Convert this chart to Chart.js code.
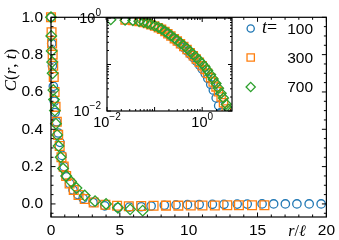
<!DOCTYPE html>
<html>
<head>
<meta charset="utf-8">
<script src="https://cdn.jsdelivr.net/npm/chart.js@4.4.0/dist/chart.umd.min.js"></script>
<style>
html, body { margin: 0; padding: 0; background: #fff; }
#wrap { position: relative; width: 339px; height: 240px; }
canvas { position: absolute; left: 0; top: 0; }
</style>
</head>
<body>
<div id="wrap">
	<canvas id="main" width="339" height="240"></canvas>
	<canvas id="inset" width="339" height="240"></canvas>
</div>
<script>
// t values of the three runs
const series = ['100', '300', '700']
const colors = ['#1f77b4', '#ff7f0e', '#2ca02c']

// main panel, r/l and C(r,t)
const r100 = [0, 0.05, 0.1, 0.17, 0.24, 0.3, 0.4, 0.53, 0.65, 0.8, 0.95, 1.13, 1.35, 1.6, 1.95, 2.33, 3.05, 3.9, 4.86, 5.7, 6.55, 7.27, 8.23, 9.08, 9.91, 10.76, 11.72, 12.56, 13.52, 14.25, 15.33, 16.17, 17.02, 17.86, 18.75, 19.62]
const c100 = [1.0, 0.86, 0.74, 0.63, 0.55, 0.49, 0.44, 0.38, 0.33, 0.26, 0.2, 0.145, 0.11, 0.075, 0.05, 0.03, 0.008, -0.01, -0.019, -0.017, -0.015, -0.011, -0.007, -0.005, -0.004, -0.003, -0.002, -0.002, -0.001, -0.001, 0, 0, 0, 0, 0, 0]

const r300 = [0, 0.04, 0.08, 0.12, 0.16, 0.2, 0.26, 0.33, 0.42, 0.52, 0.63, 0.76, 0.92, 1.1, 1.35, 1.65, 2.0, 2.45, 3.1, 3.95, 4.8, 5.65, 6.55, 7.45, 8.35, 9.25, 10.15, 11.0, 11.9, 12.8, 13.65, 14.6, 15.5]
const c300 = [1.0, 0.92, 0.86, 0.8, 0.74, 0.68, 0.6, 0.52, 0.44, 0.37, 0.31, 0.25, 0.2, 0.15, 0.11, 0.075, 0.048, 0.026, 0.008, -0.004, -0.01, -0.012, -0.011, -0.01, -0.009, -0.009, -0.008, -0.008, -0.008, -0.007, -0.007, -0.007, -0.007]

const r700 = [0, 0.02, 0.05, 0.08, 0.12, 0.17, 0.22, 0.28, 0.36, 0.45, 0.55, 0.7, 0.88, 1.1, 1.45, 1.85, 2.45, 3.2, 4.0, 4.86, 5.75, 6.66]
const c700 = [1.0, 0.9, 0.82, 0.76, 0.7, 0.61, 0.56, 0.5, 0.43, 0.37, 0.31, 0.25, 0.19, 0.15, 0.12, 0.085, 0.045, 0.015, 0.0, -0.02, -0.029, -0.036]

const xTicks = [0, 5, 10, 15, 20]
const yTicks = [0, 0.2, 0.4, 0.6, 0.8, 1.0]

// inset, log-log
const insetR = [0.012, 0.024, 0.035, 0.047, 0.059, 0.071, 0.083, 0.1, 0.12, 0.14, 0.165, 0.19, 0.22, 0.26, 0.3, 0.35, 0.41, 0.48, 0.56, 0.65, 0.75, 0.87, 1.0, 1.15, 1.3, 1.5, 1.7, 1.95, 2.2, 2.5, 2.8, 3.2, 3.6, 4.0]
const inset100 = [null, null, 0.88, 0.84, 0.8, 0.76, 0.72, 0.67, 0.61, 0.56, 0.5, 0.45, 0.4, 0.35, 0.31, 0.27, 0.23, 0.195, 0.165, 0.14, 0.117, 0.097, 0.079, 0.063, 0.05, 0.037, 0.028, 0.019, 0.013, 0.0095, null, null, null, null]
const inset300 = [null, 0.91, 0.88, 0.84, 0.8, 0.76, 0.72, 0.67, 0.62, 0.57, 0.51, 0.46, 0.41, 0.36, 0.32, 0.28, 0.245, 0.21, 0.18, 0.155, 0.132, 0.112, 0.094, 0.078, 0.065, 0.052, 0.042, 0.033, 0.026, 0.02, 0.015, 0.011, null, null]
const inset700 = [0.92, 0.9, 0.88, 0.85, 0.81, 0.77, 0.73, 0.68, 0.63, 0.58, 0.52, 0.47, 0.42, 0.37, 0.33, 0.29, 0.255, 0.22, 0.19, 0.165, 0.142, 0.122, 0.104, 0.088, 0.074, 0.06, 0.049, 0.039, 0.031, 0.024, 0.019, 0.014, 0.011, 0.0095]

const styles = ['circle', 'rect', 'rectRot']
const sizes = [4.2, 6.2, 5.3]
const insetSizes = [4, 5.8, 5]

const SANS = 'Liberation Sans'
const SERIF = 'Liberation Serif'

function points(xs, ys) {
	return xs.map((x, i) => ({ x: x, y: ys[i] })).filter(p => p.y !== null)
}

function dataset(i, data, radius, clip) {
	return {
		label: series[i],
		data: data,
		showLine: false,
		pointStyle: styles[i],
		pointRadius: radius,
		pointBorderWidth: 1.3,
		pointBorderColor: colors[i],
		pointBackgroundColor: 'rgba(0,0,0,0)',
		order: 3 - i,
		clip: clip,
	}
}

function rich(ctx, parts, x, y, align) {
	let w = 0
	parts.forEach(p => {
		ctx.font = p[1]
		w += ctx.measureText(p[0]).width
	})
	let cx = align === 'center' ? x - w / 2 : align === 'right' ? x - w : x
	parts.forEach(p => {
		ctx.font = p[1]
		ctx.fillText(p[0], cx, y + (p[2] || 0))
		cx += ctx.measureText(p[0]).width
	})
}

function frame(chart, xMaj, xMin, yMaj, yMin, major, minor) {
	const ctx = chart.ctx
	const a = chart.chartArea
	const xs = chart.scales.x
	const ys = chart.scales.y
	ctx.save()
	ctx.strokeStyle = '#000'
	ctx.lineWidth = 1
	ctx.beginPath()
	const tickX = (v, len) => {
		const p = xs.getPixelForValue(v)
		ctx.moveTo(p, a.bottom); ctx.lineTo(p, a.bottom - len)
		ctx.moveTo(p, a.top); ctx.lineTo(p, a.top + len)
	}
	const tickY = (v, len) => {
		const p = ys.getPixelForValue(v)
		ctx.moveTo(a.left, p); ctx.lineTo(a.left + len, p)
		ctx.moveTo(a.right, p); ctx.lineTo(a.right - len, p)
	}
	xMaj.forEach(v => tickX(v, major))
	xMin.forEach(v => tickX(v, minor))
	yMaj.forEach(v => tickY(v, major))
	yMin.forEach(v => tickY(v, minor))
	ctx.stroke()
	ctx.lineWidth = 1.2
	ctx.strokeRect(a.left, a.top, a.right - a.left, a.bottom - a.top)
	ctx.restore()
}

const mainDeco = {
	id: 'mainDeco',
	afterDraw(chart) {
		const ctx = chart.ctx
		const xMin = [], yMin = []
		for (let v = 1; v < 20; v++) if (v % 5) xMin.push(v)
		for (let k = -1; k <= 20; k++) if (k % 4) yMin.push(k * 0.05)
		frame(chart, xTicks, xMin, yTicks, yMin, 4.5, 2.5)

		ctx.save()
		ctx.fillStyle = '#000'
		ctx.textBaseline = 'middle'
		// y label
		ctx.save()
		ctx.translate(12, 70)
		ctx.rotate(-Math.PI / 2)
		rich(ctx, [
			['C', 'italic 17px ' + SERIF],
			['(', '17px ' + SERIF],
			['r', 'italic 17px ' + SERIF],
			[', ', '17px ' + SERIF],
			['t', 'italic 17px ' + SERIF],
			[')', '17px ' + SERIF],
		], 0, 0, 'center')
		ctx.restore()
		// x label
		rich(ctx, [
			['r', 'italic 16px ' + SERIF],
			['/', '16px ' + SERIF],
			['\u2113', 'italic 16px ' + SERIF],
		], 297, 232, 'center')

		// legend
		const ly = [28.5, 57.5, 87]
		const lr = [3.6, 5.2, 4.6]
		series.forEach((s, i) => {
			ctx.save()
			ctx.strokeStyle = colors[i]
			ctx.fillStyle = 'rgba(0,0,0,0)'
			ctx.lineWidth = 1.3
			Chart.helpers.drawPoint(ctx, { pointStyle: styles[i], radius: lr[i], rotation: 0, borderWidth: 1.3 }, 250.7, ly[i])
			ctx.restore()
			ctx.font = '15.5px ' + SANS
			ctx.textAlign = 'right'
			ctx.fillText(s, 313, ly[i] + 1)
			ctx.textAlign = 'left'
		})
		rich(ctx, [
			['t', 'italic 18px ' + SERIF],
			['=', '18px ' + SERIF],
		], 262, ly[0], 'left')
		ctx.restore()
	},
}

const insetDeco = {
	id: 'insetDeco',
	beforeDraw(chart) {
		const a = chart.chartArea
		chart.ctx.save()
		chart.ctx.fillStyle = '#fff'
		chart.ctx.fillRect(a.left, a.top, a.right - a.left, a.bottom - a.top)
		chart.ctx.restore()
	},
	afterDraw(chart) {
		const ctx = chart.ctx
		const a = chart.chartArea
		const xMin = [], yMin = []
		for (const d of [0.01, 0.1, 1]) {
			for (let k = 2; k <= 9; k++) {
				if (d * k <= 4.2) xMin.push(d * k)
				if (d * k < 1) yMin.push(d * k)
			}
		}
		frame(chart, [0.01, 0.1, 1], xMin, [0.01, 0.1, 1], yMin, 4, 2)
		ctx.save()
		ctx.fillStyle = '#000'
		ctx.textBaseline = 'middle'
		const base = '14.5px ' + SANS
		const sup = '10px ' + SANS
		const xs = chart.scales.x
		const ys = chart.scales.y
		rich(ctx, [['10', base], ['0', sup, -6]], a.left - 6, ys.getPixelForValue(1) + 1, 'right')
		rich(ctx, [['10', base], ['\u22122', sup, -6]], a.left - 6, ys.getPixelForValue(0.01) + 1, 'right')
		rich(ctx, [['10', base], ['\u22122', sup, -6]], xs.getPixelForValue(0.01), a.bottom + 12, 'center')
		rich(ctx, [['10', base], ['0', sup, -6]], xs.getPixelForValue(1), a.bottom + 12, 'center')
		ctx.restore()
	},
}

Chart.defaults.font.family = SANS

const tickFont = { family: SANS, size: 15.5 }

new Chart(document.getElementById('main'), {
	type: 'scatter',
	data: {
		datasets: [
			dataset(0, points(r100, c100), sizes[0], false),
			dataset(1, points(r300, c300), sizes[1], false),
			dataset(2, points(r700, c700), sizes[2], false),
		],
	},
	options: {
		responsive: false,
		animation: false,
		devicePixelRatio: 1,
		layout: { padding: { left: 0, right: 11, top: 6, bottom: 0 } },
		plugins: { legend: { display: false }, tooltip: { enabled: false } },
		scales: {
			x: {
				type: 'linear',
				min: 0,
				max: 20,
				grid: { display: false, drawTicks: false, tickLength: 0 },
				border: { display: false },
				ticks: { font: tickFont, color: '#000', padding: 4, autoSkip: false, maxRotation: 0, callback: v => String(v) },
				afterBuildTicks: s => { s.ticks = xTicks.map(v => ({ value: v })) },
				afterFit: s => { s.height = 23 },
			},
			y: {
				type: 'linear',
				min: -0.07,
				max: 1.0,
				grid: { display: false, drawTicks: false, tickLength: 0 },
				border: { display: false },
				ticks: { font: tickFont, color: '#000', padding: 8, autoSkip: false, callback: v => v.toFixed(1) },
				afterBuildTicks: s => { s.ticks = yTicks.map(v => ({ value: v })) },
				afterFit: s => { s.width = 51 },
			},
		},
	},
	plugins: [mainDeco],
})

new Chart(document.getElementById('inset'), {
	type: 'scatter',
	data: {
		datasets: [
			dataset(0, points(insetR, inset100), insetSizes[0], 0),
			dataset(1, points(insetR, inset300), insetSizes[1], 0),
			dataset(2, points(insetR, inset700), insetSizes[2], 0),
		],
	},
	options: {
		responsive: false,
		animation: false,
		devicePixelRatio: 1,
		layout: { padding: { left: 107, right: 107, top: 18, bottom: 129 } },
		plugins: { legend: { display: false }, tooltip: { enabled: false } },
		scales: {
			x: { type: 'logarithmic', min: 0.01, max: 4.23, display: false },
			y: { type: 'logarithmic', min: 0.01, max: 1, display: false },
		},
	},
	plugins: [insetDeco],
})
</script>
</body>
</html>
